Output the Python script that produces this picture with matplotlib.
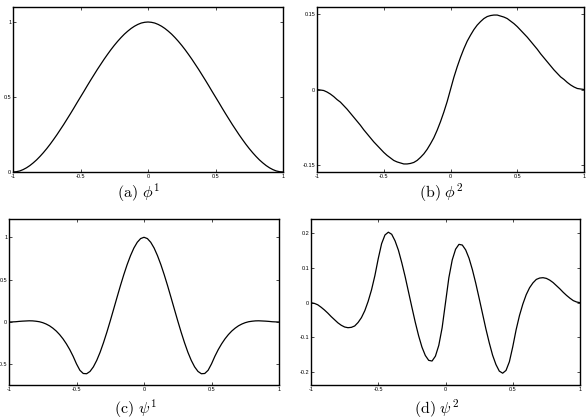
import numpy as np
import matplotlib
matplotlib.use("Agg")
import matplotlib.pyplot as plt

plt.rcParams['mathtext.fontset'] = 'cm'
plt.rcParams['axes.unicode_minus'] = False
plt.rcParams['font.family'] = ['Liberation Sans', 'DejaVu Sans']

# sample grid (step 0.025 from -1 to 1)
x_grid = np.linspace(-1, 1, 81)

phi1 = [0, 0.002, 0.007, 0.016, 0.028, 0.043, 0.061, 0.081, 0.104, 0.129,
        0.156, 0.185, 0.216, 0.248, 0.282, 0.316, 0.352, 0.388, 0.425, 0.463,
        0.5, 0.537, 0.575, 0.612, 0.648, 0.684, 0.718, 0.752, 0.784, 0.815,
        0.844, 0.871, 0.896, 0.919, 0.939, 0.957, 0.972, 0.984, 0.993, 0.998,
        1.0,
        0.998, 0.993, 0.984, 0.972, 0.957, 0.939, 0.919, 0.896, 0.871, 0.844,
        0.815, 0.784, 0.752, 0.718, 0.684, 0.648, 0.612, 0.575, 0.537, 0.5,
        0.463, 0.425, 0.388, 0.352, 0.316, 0.282, 0.248, 0.216, 0.185, 0.156,
        0.129, 0.104, 0.081, 0.061, 0.043, 0.028, 0.016, 0.007, 0.002, 0]

phi2 = [0, -0.001, -0.002, -0.005, -0.009, -0.014, -0.020, -0.025, -0.032, -0.039,
        -0.047, -0.055, -0.063, -0.071, -0.080, -0.088, -0.096, -0.104, -0.111, -0.118,
        -0.125, -0.131, -0.136, -0.141, -0.144, -0.146, -0.148, -0.148, -0.147, -0.145,
        -0.141, -0.135, -0.128, -0.119, -0.108, -0.096, -0.081, -0.064, -0.045, -0.024,
        0,
        0.024, 0.045, 0.064, 0.081, 0.096, 0.108, 0.119, 0.128, 0.135, 0.141,
        0.145, 0.147, 0.148, 0.148, 0.146, 0.144, 0.141, 0.136, 0.131, 0.125,
        0.118, 0.111, 0.104, 0.096, 0.088, 0.080, 0.071, 0.063, 0.055, 0.047,
        0.039, 0.032, 0.025, 0.020, 0.014, 0.009, 0.005, 0.002, 0.001, 0]

psi1 = [0, 0.001, 0.003, 0.007, 0.010, 0.012, 0.014, 0.013, 0.009, 0.003,
        -0.008, -0.024, -0.045, -0.073, -0.107, -0.149, -0.199, -0.258, -0.326, -0.405,
        -0.495, -0.570, -0.608, -0.611, -0.584, -0.530, -0.453, -0.357, -0.244, -0.120,
        0.013, 0.151, 0.290, 0.427, 0.557, 0.677, 0.783, 0.873, 0.941, 0.985,
        1.0,
        0.985, 0.941, 0.873, 0.783, 0.677, 0.557, 0.427, 0.290, 0.151, 0.013,
        -0.120, -0.244, -0.357, -0.453, -0.530, -0.584, -0.611, -0.608, -0.570, -0.495,
        -0.405, -0.326, -0.258, -0.199, -0.149, -0.107, -0.073, -0.045, -0.024, -0.008,
        0.003, 0.009, 0.013, 0.014, 0.012, 0.010, 0.007, 0.003, 0.001, 0]

psi2 = [0, -0.002, -0.006, -0.013, -0.021, -0.030, -0.040, -0.049, -0.058, -0.065,
        -0.070, -0.072, -0.071, -0.067, -0.057, -0.043, -0.023, 0.004, 0.037, 0.078,
        0.127, 0.170, 0.195, 0.203, 0.197, 0.178, 0.151, 0.115, 0.075, 0.031,
        -0.013, -0.056, -0.095, -0.128, -0.152, -0.166, -0.168, -0.154, -0.123, -0.072,
        0,
        0.072, 0.123, 0.154, 0.168, 0.166, 0.152, 0.128, 0.095, 0.056, 0.013,
        -0.031, -0.075, -0.115, -0.151, -0.178, -0.197, -0.203, -0.195, -0.170, -0.127,
        -0.078, -0.037, -0.004, 0.023, 0.043, 0.057, 0.067, 0.071, 0.072, 0.070,
        0.065, 0.058, 0.049, 0.040, 0.030, 0.021, 0.013, 0.006, 0.002, 0]

xticks = [-1, -0.5, 0, 0.5, 1]
xticklabels = ['-1', '-0.5', '0', '0.5', '1']

panels = [
    dict(y=phi1, yticks=[0, 0.5, 1], ylabels=['0', '0.5', '1'],
         ylim=(0, 1.1), caption=r'$\mathrm{(a)}\ \phi^1$'),
    dict(y=phi2, yticks=[-0.15, 0, 0.15], ylabels=['-0.15', '0', '0.15'],
         ylim=(-0.164, 0.164), caption=r'$\mathrm{(b)}\ \phi^2$'),
    dict(y=psi1, yticks=[-0.5, 0, 0.5, 1], ylabels=['-0.5', '0', '0.5', '1'],
         ylim=(-0.744, 1.216), caption=r'$\mathrm{(c)}\ \psi^1$'),
    dict(y=psi2, yticks=[-0.2, -0.1, 0, 0.1, 0.2],
         ylabels=['-0.2', '-0.1', '0', '0.1', '0.2'],
         ylim=(-0.237, 0.241), caption=r'$\mathrm{(d)}\ \psi^2$'),
]

W, H = 586, 420
# axes boxes in pixels: left, top, right, bottom
boxes = [(13, 7, 283, 172), (317, 7, 584, 172), (9, 219, 279, 385), (311, 219, 580, 385)]
caption_pos = [(139, 193), (441, 193), (136, 409), (437, 409)]

fig = plt.figure(figsize=(W / 100, H / 100), dpi=100)
for p, (l, t, r, b), (cx, cy) in zip(panels, boxes, caption_pos):
    ax = fig.add_axes([l / W, 1 - b / H, (r - l) / W, (b - t) / H])
    ax.plot(x_grid, p['y'], color='black', lw=0.9)
    ax.set_xlim(-1, 1)
    ax.set_ylim(*p['ylim'])
    ax.set_xticks(xticks)
    ax.set_xticklabels(xticklabels)
    ax.set_yticks(p['yticks'])
    ax.set_yticklabels(p['ylabels'])
    ax.tick_params(direction='in', top=True, right=True, length=2.5, width=0.5,
                   labelsize=4, pad=1.2)
    for s in ax.spines.values():
        s.set_linewidth(1.0)
    fig.text(cx / W, 1 - cy / H, p['caption'], ha='center', va='center', fontsize=11.5)

fig.savefig('out.png', dpi=100)
